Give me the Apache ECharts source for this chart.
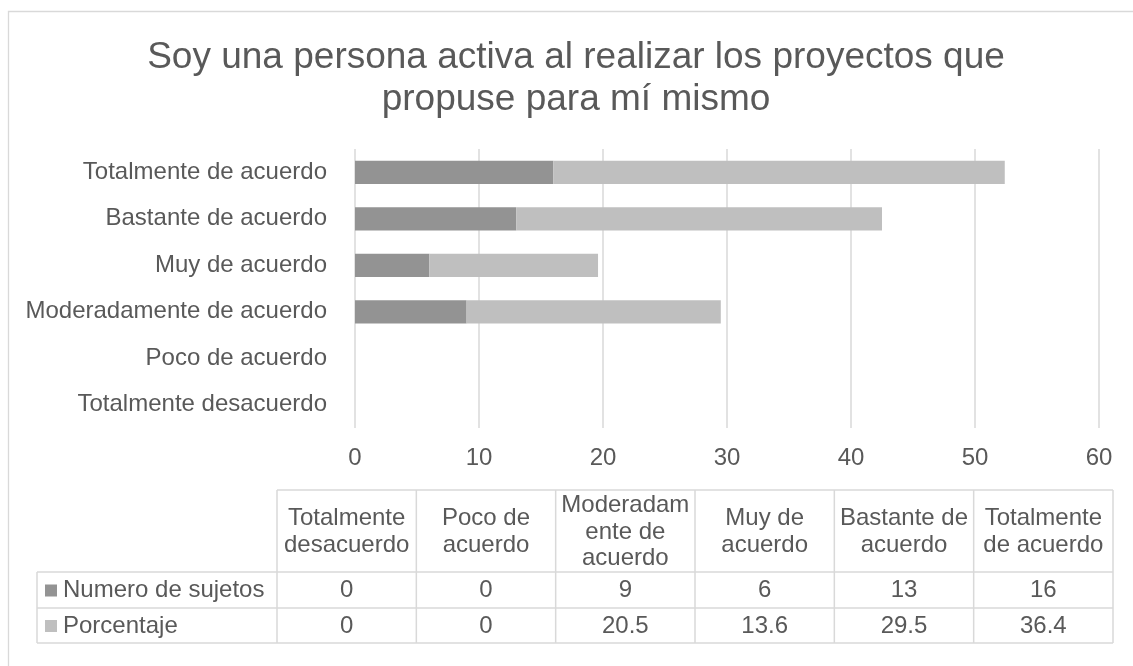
<!DOCTYPE html>
<html>
<head>
<meta charset="utf-8">
<script src="https://cdn.jsdelivr.net/npm/echarts@6/dist/echarts.min.js"></script>
<style>
html,body{margin:0;padding:0;background:#fff;}
#c{width:1133px;height:666px;}
</style>
</head>
<body>
<div id="c"></div>
<script>
// ---- data ----
const categories = ['Totalmente desacuerdo','Poco de acuerdo','Moderadamente de acuerdo','Muy de acuerdo','Bastante de acuerdo','Totalmente de acuerdo'];
const headerLabels = ['Totalmente\ndesacuerdo','Poco de\nacuerdo','Moderadam\nente de\nacuerdo','Muy de\nacuerdo','Bastante de\nacuerdo','Totalmente\nde acuerdo'];
const seriesNames = ['Numero de sujetos','Porcentaje'];
const sujetos = [0,0,9,6,13,16];
const porcentaje = [0,0,20.5,13.6,29.5,36.4];
const xTicks = [0,10,20,30,40,50,60];

const colors = ['#939393','#BFBFBF'];
const textColor = '#595959';
const lineColor = '#D9D9D9';
const fontFamily = '"Liberation Sans", Arial, sans-serif';
const fs = 24;

// ---- table layout ----
const tLeft = 37, tLabelRight = 277, tRight = 1113;
const tTop = 490, tHeadBottom = 572, tRow1Bottom = 608, tBottom = 643;
const colW = (tRight - tLabelRight) / categories.length;

const graphics = [];
// chart outer border
graphics.push({type:'rect', shape:{x:8.5,y:11.5,width:1140,height:680}, style:{fill:'none',stroke:lineColor,lineWidth:1.3}, silent:true});

function hline(x1,x2,y){graphics.push({type:'line',shape:{x1:x1,y1:y,x2:x2,y2:y},style:{stroke:lineColor,lineWidth:1.5},silent:true});}
function vline(x,y1,y2){graphics.push({type:'line',shape:{x1:x,y1:y1,x2:x,y2:y2},style:{stroke:lineColor,lineWidth:1.5},silent:true});}

hline(tLabelRight, tRight, tTop);
hline(tLeft, tRight, tHeadBottom);
hline(tLeft, tRight, tRow1Bottom);
hline(tLeft, tRight, tBottom);
vline(tLeft, tHeadBottom, tBottom);
for (let i = 0; i <= categories.length; i++) {
  vline(tLabelRight + i*colW, tTop, tBottom);
}
const rows = [sujetos, porcentaje];
const rowTops = [tHeadBottom, tRow1Bottom];
const rowBottoms = [tRow1Bottom, tBottom];
headerLabels.forEach((h,i)=>{
  graphics.push({type:'text', x: tLabelRight + (i+0.5)*colW, y:(tTop+tHeadBottom)/2+1,
    style:{text:h, fill:textColor, font: fs+'px '+fontFamily, align:'center', verticalAlign:'middle', lineHeight:26.5}, silent:true});
});
rows.forEach((r,ri)=>{
  const cy = (rowTops[ri]+rowBottoms[ri])/2 + 0.5;
  graphics.push({type:'rect', shape:{x:45,y:cy-6,width:12,height:12}, style:{fill:colors[ri]}, silent:true});
  graphics.push({type:'text', x:63, y:cy, style:{text:seriesNames[ri], fill:textColor, font: fs+'px '+fontFamily, align:'left', verticalAlign:'middle'}, silent:true});
  r.forEach((v,i)=>{
    graphics.push({type:'text', x: tLabelRight + (i+0.5)*colW, y:cy,
      style:{text:String(v), fill:textColor, font: fs+'px '+fontFamily, align:'center', verticalAlign:'middle'}, silent:true});
  });
});

const chart = echarts.init(document.getElementById('c'), null, {renderer:'canvas'});
chart.setOption({
  backgroundColor:'#fff',
  animation:false,
  title:{
    text:'Soy una persona activa al realizar los proyectos que\npropuse para mí mismo',
    left:571, top:32, textAlign:'center',
    textStyle:{color:textColor, fontFamily:fontFamily, fontSize:37, fontWeight:'normal', lineHeight:42}
  },
  grid:{left:355, right:34, top:149, bottom:238, containLabel:false},
  xAxis:{
    type:'value', min:xTicks[0], max:xTicks[xTicks.length-1], interval:10,
    axisLine:{show:false}, axisTick:{show:false},
    axisLabel:{color:textColor, fontFamily:fontFamily, fontSize:fs, margin:18},
    splitLine:{show:true, lineStyle:{color:lineColor, width:1.5}}
  },
  yAxis:{
    type:'category', data:categories,
    axisLine:{show:false}, axisTick:{show:false},
    axisLabel:{color:textColor, fontFamily:fontFamily, fontSize:fs, margin:28}
  },
  series:[
    {name:seriesNames[0], type:'bar', stack:'a', data:sujetos, barWidth:'50%', itemStyle:{color:colors[0]}},
    {name:seriesNames[1], type:'bar', stack:'a', data:porcentaje, barWidth:'50%', itemStyle:{color:colors[1]}}
  ],
  graphic:graphics
});
</script>
</body>
</html>
